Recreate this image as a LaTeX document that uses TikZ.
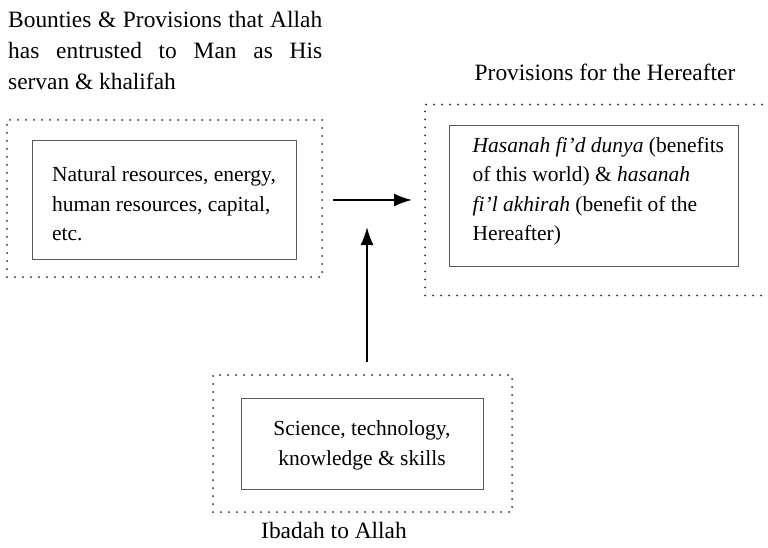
\documentclass[tikz,border=0pt]{standalone}
\usepackage{fontspec}
\setmainfont{Liberation Serif}
\usetikzlibrary{arrows.meta}

\begin{document}
\begin{tikzpicture}[x=1pt,y=-1pt,
    line/.style={draw, -{Latex[length=18pt,width=13pt]}, line width=2pt},
    frame/.style={draw=black!85, line width=2pt, dash pattern=on 0pt off 8pt, line cap=round, inner sep=0pt},
    holder/.style={draw=black!65, line width=1pt, inner sep=0pt},
    words/.style={font=\fontsize{21.5}{29.5}\selectfont, align=left, inner sep=0pt},
    caption/.style={font=\fontsize{23.4}{31}\selectfont, inner sep=0pt},
    ]
    \useasboundingbox (0,0) rectangle (768,548);
    % Place nodes
    \node [frame, minimum width=315pt, minimum height=157pt] (gifts) at (164.5,198.5) {};
    \node [holder, minimum width=264pt, minimum height=118pt] (giftsbox) at (164,200) {};
    \node [words] (giftstext) at ([yshift=-4pt]giftsbox.center) {Natural resources, energy,\\human resources, capital,\\etc.};

    \node [frame, minimum width=365pt, minimum height=191pt] (reward) at (607.5,200) {};
    \node [holder, minimum width=289pt, minimum height=140pt] (rewardbox) at (593.5,196) {};
    \node [words, anchor=west] (rewardtext) at ([xshift=24pt,yshift=5pt]rewardbox.west)
      {\textit{Hasanah fi'd dunya} (benefits\\of this world) \& \textit{hasanah}\\\textit{fi'l akhirah} (benefit of the\\Hereafter)};

    \node [frame, minimum width=299pt, minimum height=137pt] (ibadah) at (362.5,443.5) {};
    \node [holder, minimum width=242pt, minimum height=91pt] (ibadahbox) at (362,443.5) {};
    \node [words, align=center] (ibadahtext) at ([yshift=-2pt]ibadahbox.center) {Science, technology,\\knowledge \& skills};

    % Captions
    \node [caption, align=left, anchor=north west] (giftslabel) at (8,11)
      {\makebox[314pt][s]{Bounties \& Provisions that Allah}\\
       \makebox[314pt][s]{has entrusted to Man as His}\\
       servan \& khalifah};
    \node [caption, anchor=base] (rewardlabel) at (605,81) {Provisions for the Hereafter};
    \node [caption, anchor=base] (ibadahlabel) at (334,538) {Ibadah to Allah};

    % Draw edges
    \coordinate (hfrom) at (333,200);
    \coordinate (hto) at (412,200);
    \coordinate (vfrom) at (367,362);
    \coordinate (vto) at (367,227);
    \path [line] (hfrom) -- (hto);
    \path [line] (vfrom) -- (vto);
\end{tikzpicture}
\end{document}
